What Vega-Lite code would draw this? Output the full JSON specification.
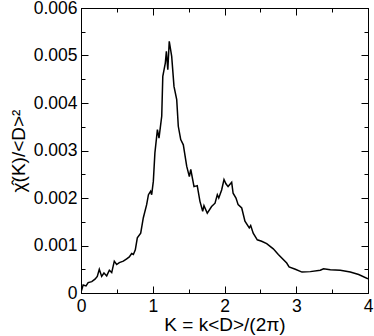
{
  "$schema": "https://vega.github.io/schema/vega-lite/v6.json",
  "width": 287,
  "height": 285,
  "autosize": "none",
  "padding": {"left": 81, "top": 8, "right": 6, "bottom": 43},
  "background": "white",
  "config": {
    "view": {"stroke": "black", "strokeWidth": 1},
    "axis": {
      "domainColor": "black",
      "tickColor": "black",
      "labelColor": "black",
      "titleColor": "black",
      "labelFont": "Liberation Sans",
      "titleFont": "Liberation Sans",
      "labelFontSize": 17.5,
      "titleFontSize": 19,
      "titleFontWeight": "normal",
      "grid": false
    }
  },
  "data": {
    "values": [
      {"K": 0.0, "chi": 0.00002},
      {"K": 0.01, "chi": 0.00007},
      {"K": 0.03, "chi": 0.00017},
      {"K": 0.07, "chi": 0.00015},
      {"K": 0.10, "chi": 0.00022},
      {"K": 0.15, "chi": 0.00024},
      {"K": 0.195, "chi": 0.00029},
      {"K": 0.227, "chi": 0.00035},
      {"K": 0.255, "chi": 0.00050},
      {"K": 0.288, "chi": 0.00035},
      {"K": 0.32, "chi": 0.00042},
      {"K": 0.358, "chi": 0.00036},
      {"K": 0.395, "chi": 0.00048},
      {"K": 0.428, "chi": 0.00043},
      {"K": 0.464, "chi": 0.00067},
      {"K": 0.497, "chi": 0.00060},
      {"K": 0.534, "chi": 0.00064},
      {"K": 0.59, "chi": 0.00067},
      {"K": 0.637, "chi": 0.00072},
      {"K": 0.673, "chi": 0.00076},
      {"K": 0.706, "chi": 0.00083},
      {"K": 0.73, "chi": 0.00081},
      {"K": 0.757, "chi": 0.00091},
      {"K": 0.785, "chi": 0.00116},
      {"K": 0.832, "chi": 0.00126},
      {"K": 0.868, "chi": 0.00158},
      {"K": 0.915, "chi": 0.00186},
      {"K": 0.94, "chi": 0.00207},
      {"K": 0.97, "chi": 0.00214},
      {"K": 0.985, "chi": 0.00207},
      {"K": 1.008, "chi": 0.00235},
      {"K": 1.03, "chi": 0.00295},
      {"K": 1.065, "chi": 0.00344},
      {"K": 1.087, "chi": 0.00326},
      {"K": 1.125, "chi": 0.00372},
      {"K": 1.14, "chi": 0.00456},
      {"K": 1.175, "chi": 0.00484},
      {"K": 1.19, "chi": 0.00509},
      {"K": 1.21, "chi": 0.00470},
      {"K": 1.23, "chi": 0.00530},
      {"K": 1.264, "chi": 0.00498},
      {"K": 1.296, "chi": 0.00435},
      {"K": 1.334, "chi": 0.00407},
      {"K": 1.356, "chi": 0.00351},
      {"K": 1.39, "chi": 0.00323},
      {"K": 1.426, "chi": 0.00312},
      {"K": 1.473, "chi": 0.00267},
      {"K": 1.51, "chi": 0.00245},
      {"K": 1.53, "chi": 0.00260},
      {"K": 1.575, "chi": 0.00224},
      {"K": 1.62, "chi": 0.00226},
      {"K": 1.658, "chi": 0.00193},
      {"K": 1.696, "chi": 0.00172},
      {"K": 1.714, "chi": 0.00184},
      {"K": 1.76, "chi": 0.00168},
      {"K": 1.82, "chi": 0.00182},
      {"K": 1.868, "chi": 0.00189},
      {"K": 1.90, "chi": 0.00207},
      {"K": 1.92, "chi": 0.00200},
      {"K": 1.96, "chi": 0.00217},
      {"K": 1.993, "chi": 0.00239},
      {"K": 2.02, "chi": 0.00230},
      {"K": 2.05, "chi": 0.00224},
      {"K": 2.10, "chi": 0.00233},
      {"K": 2.12, "chi": 0.00210},
      {"K": 2.16, "chi": 0.00200},
      {"K": 2.19, "chi": 0.00186},
      {"K": 2.24, "chi": 0.00179},
      {"K": 2.285, "chi": 0.00151},
      {"K": 2.345, "chi": 0.00137},
      {"K": 2.365, "chi": 0.00142},
      {"K": 2.40, "chi": 0.00126},
      {"K": 2.457, "chi": 0.00112},
      {"K": 2.518, "chi": 0.00109},
      {"K": 2.588, "chi": 0.00104},
      {"K": 2.68, "chi": 0.00093},
      {"K": 2.75, "chi": 0.00081},
      {"K": 2.867, "chi": 0.00063},
      {"K": 2.90, "chi": 0.00055},
      {"K": 2.987, "chi": 0.00050},
      {"K": 3.08, "chi": 0.00044},
      {"K": 3.196, "chi": 0.00045},
      {"K": 3.335, "chi": 0.00048},
      {"K": 3.38, "chi": 0.00051},
      {"K": 3.475, "chi": 0.00049},
      {"K": 3.614, "chi": 0.00048},
      {"K": 3.753, "chi": 0.00044},
      {"K": 3.87, "chi": 0.00039},
      {"K": 4.0, "chi": 0.00030}
    ]
  },
  "layer": [
    {
      "mark": {"type": "line", "color": "black", "strokeWidth": 1.5, "clip": true},
      "encoding": {
        "x": {
          "field": "K", "type": "quantitative",
          "scale": {"domain": [0, 4], "nice": false, "zero": false},
          "axis": {
            "title": "K = k<D>/(2π)",
            "values": [0, 0.5, 1, 1.5, 2, 2.5, 3, 3.5, 4],
            "labelExpr": "datum.value % 1 === 0 ? format(datum.value, 'd') : ''",
            "tickSize": {"condition": {"test": "datum.value % 1 === 0", "value": -7}, "value": -4},
            "labelPadding": 11,
            "labelFlush": false,
            "titlePadding": 1
          }
        },
        "y": {
          "field": "chi", "type": "quantitative",
          "scale": {"domain": [0, 0.006], "nice": false},
          "axis": {
            "title": "χ̂(K)/<D>²",
            "values": [0, 0.0005, 0.001, 0.0015, 0.002, 0.0025, 0.003, 0.0035, 0.004, 0.0045, 0.005, 0.0055, 0.006],
            "labelExpr": "round(datum.value * 2000) % 2 === 0 ? (datum.value === 0 ? '0' : format(datum.value, '.3f')) : ''",
            "tickSize": {"condition": {"test": "round(datum.value * 2000) % 2 === 0", "value": -7}, "value": -4},
            "labelPadding": 11,
            "labelFlush": false,
            "titlePadding": 5
          }
        }
      }
    },
    {
      "mark": {"type": "line", "opacity": 0},
      "encoding": {
        "x": {
          "field": "K", "type": "quantitative",
          "scale": {"domain": [0, 4], "nice": false, "zero": false},
          "axis": {
            "orient": "top", "title": null, "labels": false,
            "values": [0, 0.5, 1, 1.5, 2, 2.5, 3, 3.5, 4],
            "tickSize": {"condition": {"test": "datum.value % 1 === 0", "value": -7}, "value": -4}
          }
        },
        "y": {
          "field": "chi", "type": "quantitative",
          "scale": {"domain": [0, 0.006], "nice": false},
          "axis": {
            "orient": "right", "title": null, "labels": false,
            "values": [0, 0.0005, 0.001, 0.0015, 0.002, 0.0025, 0.003, 0.0035, 0.004, 0.0045, 0.005, 0.0055, 0.006],
            "tickSize": {"condition": {"test": "round(datum.value * 2000) % 2 === 0", "value": -7}, "value": -4}
          }
        }
      }
    }
  ],
  "resolve": {"axis": {"x": "independent", "y": "independent"}}
}
